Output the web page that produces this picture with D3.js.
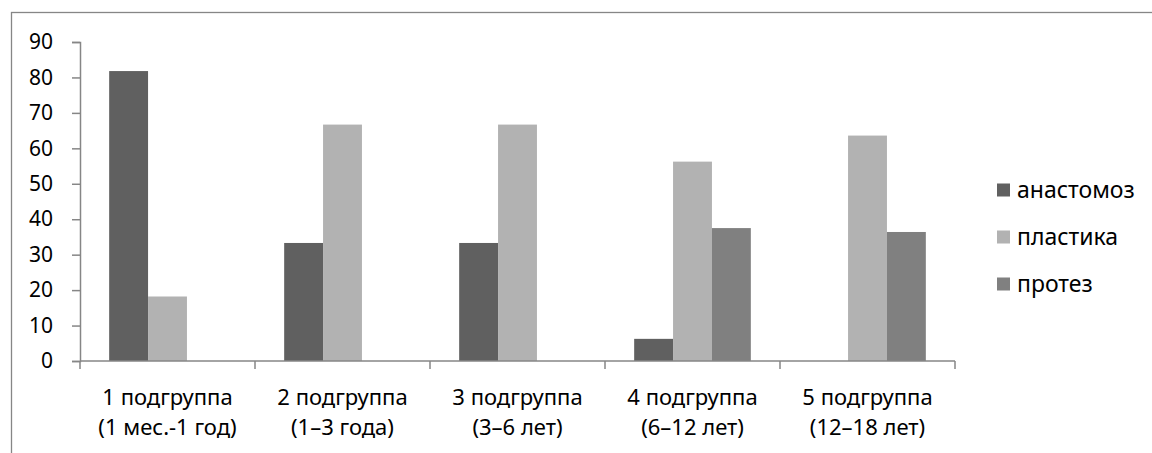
<!DOCTYPE html>
<html><head><meta charset="utf-8">
<script src="https://cdn.jsdelivr.net/npm/d3@7"></script>
<style>body{margin:0;background:#fff}svg{display:block}text{font-family:"Noto Sans",sans-serif;fill:#000}</style>
</head><body><svg id="c" width="1152" height="453"></svg>
<script>
const categories = [["1 подгруппа","(1 мес.-1 год)"],["2 подгруппа","(1–3 года)"],["3 подгруппа","(3–6 лет)"],["4 подгруппа","(6–12 лет)"],["5 подгруппа","(12–18 лет)"]];
const seriesNames = ["анастомоз","пластика","протез"];
const anastomoz = [81.8, 33.3, 33.3, 6.25, 0];
const plastika = [18.2, 66.7, 66.7, 56.25, 63.6];
const protez = [0, 0, 0, 37.5, 36.4];
const colors = ["#606060","#b2b2b2","#808080"];
const yTicks = [0,10,20,30,40,50,60,70,80,90];

const svg = d3.select("#c");
const axisColor = "#868686";
svg.append("rect").attr("x",11.5).attr("y",12.5).attr("width",1200).attr("height",500)
  .attr("fill","none").attr("stroke",axisColor).attr("stroke-width",1.3);

const L = 80, R = 955, T = 42, B = 361;
const idx = categories.map((d,i)=>i);
const x0 = d3.scaleBand().domain(idx).range([L,R]).padding(0);
const bw = x0.bandwidth();
const x1 = d3.scaleBand().domain(seriesNames).range([0,bw]).paddingInner(0).paddingOuter(0.75);
const y = d3.scaleLinear().domain([0,90]).range([B,T]);

const series = [anastomoz, plastika, protez];
series.forEach((vals,si)=>{
  svg.append("g").selectAll("rect").data(vals).join("rect")
    .attr("x",(d,i)=>x0(i)+x1(seriesNames[si]))
    .attr("width",x1.bandwidth())
    .attr("y",d=>y(d))
    .attr("height",d=>B-y(d))
    .attr("fill",colors[si]);
});

const ya = svg.append("g").attr("transform",`translate(${L},0)`)
  .call(d3.axisLeft(y).tickValues(yTicks).tickSize(8).tickPadding(19));
ya.select(".domain").attr("stroke",axisColor).attr("stroke-width",1.5);
ya.selectAll(".tick line").attr("stroke",axisColor).attr("stroke-width",1.5);
ya.selectAll(".tick text").style("font-size","21px").attr("fill","#000");

const xa = svg.append("g").attr("transform",`translate(0,${B})`);
xa.append("line").attr("x1",L).attr("x2",R).attr("stroke",axisColor).attr("stroke-width",1.5);
const bounds = idx.map(i=>x0(i)).concat([R]);
xa.selectAll(".tk").data(bounds).join("line").attr("x1",d=>d).attr("x2",d=>d).attr("y1",0).attr("y2",8)
  .attr("stroke",axisColor).attr("stroke-width",1.5);
const lab = xa.selectAll(".lab").data(categories).join("text")
  .attr("text-anchor","middle").style("font-size","22px")
  .attr("x",(d,i)=>x0(i)+bw/2);
lab.append("tspan").attr("x",(d,i)=>x0(i)+bw/2).attr("y",36).attr("dy","0.35em").text(d=>d[0]);
lab.append("tspan").attr("x",(d,i)=>x0(i)+bw/2).attr("y",66).attr("dy","0.35em").text(d=>d[1]);

const lg = svg.append("g");
const ly = [190,237,284];
seriesNames.forEach((n,i)=>{
  lg.append("rect").attr("x",997).attr("y",ly[i]-6.5).attr("width",13).attr("height",13).attr("fill",colors[i]);
  lg.append("text").attr("x",1017).attr("y",ly[i]).attr("dy","0.35em").style("font-size","23px").text(n);
});
</script></body></html>
